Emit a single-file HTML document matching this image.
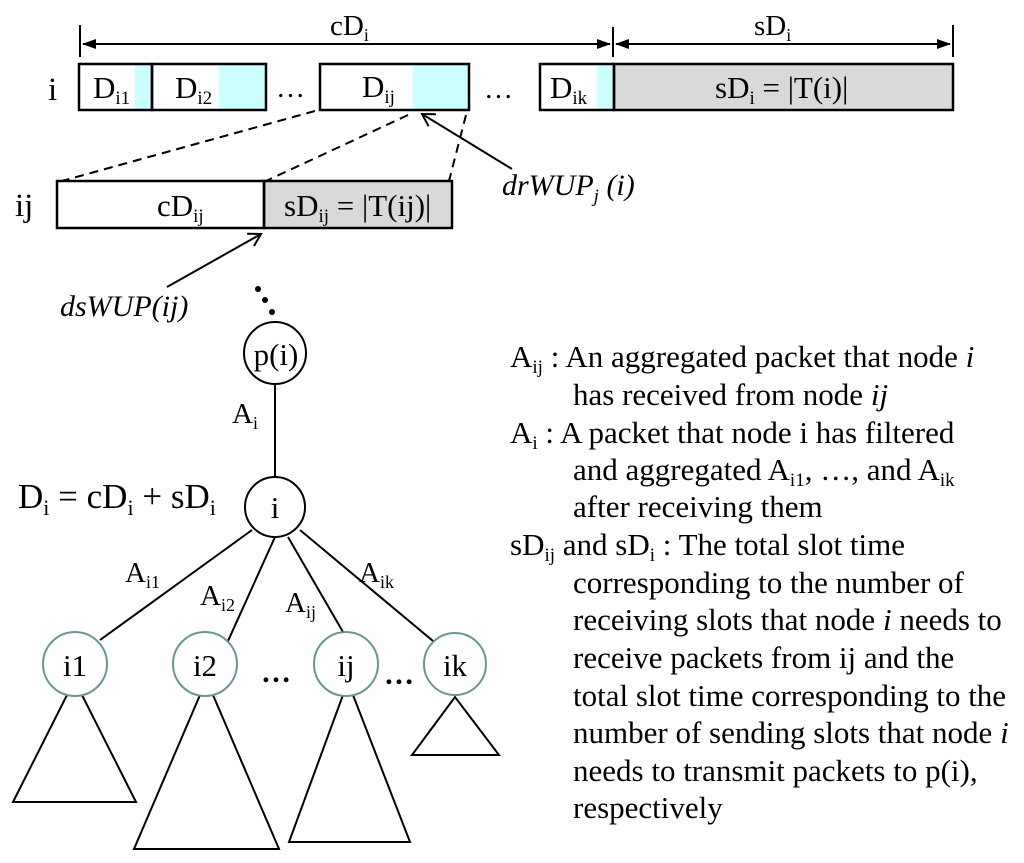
<!DOCTYPE html>
<html><head><meta charset="utf-8"><style>
html,body{margin:0;padding:0;background:#fff;}
svg{display:block;font-family:"Liberation Serif",serif;}
</style></head><body>
<svg width="1024" height="863" viewBox="0 0 1024 863" xmlns="http://www.w3.org/2000/svg">
<defs>
<marker id="ah" markerWidth="14" markerHeight="10" refX="13" refY="5" orient="auto" markerUnits="userSpaceOnUse"><path d="M0,0 L14,5 L0,10 Z" fill="#000"/></marker>
<marker id="oa" markerWidth="16" markerHeight="16" refX="14" refY="8" orient="auto" markerUnits="userSpaceOnUse"><path d="M2,1 L14,8 L2,15" fill="none" stroke="#000" stroke-width="2"/></marker>
</defs>
<g stroke="#000" stroke-width="2" fill="none">
<line x1="80" y1="25" x2="80" y2="57"/>
<line x1="613" y1="27" x2="613" y2="57"/>
<line x1="953" y1="25" x2="953" y2="57"/>
<line x1="610" y1="44" x2="83" y2="44" marker-end="url(#ah)"/>
<line x1="83" y1="44" x2="610" y2="44" marker-end="url(#ah)"/>
<line x1="950" y1="44" x2="616" y2="44" marker-end="url(#ah)"/>
<line x1="616" y1="44" x2="950" y2="44" marker-end="url(#ah)"/>
</g>
<text x="330" y="35" font-size="29">cD<tspan font-size="18" dy="6">i</tspan></text>
<text x="754" y="35" font-size="29">sD<tspan font-size="18" dy="6">i</tspan></text>
<!-- top bar -->
<rect x="135" y="65" width="17" height="45" fill="#ccffff"/>
<rect x="219" y="65" width="47" height="45" fill="#ccffff"/>
<rect x="413" y="65" width="56" height="45" fill="#ccffff"/>
<rect x="597" y="65" width="17" height="45" fill="#ccffff"/>
<rect x="614" y="65" width="339" height="45" fill="#d9d9d9"/>
<g stroke="#000" stroke-width="2.5" fill="none">
<rect x="79" y="64" width="73" height="46"/>
<rect x="152" y="64" width="114" height="46"/>
<rect x="320" y="64" width="149" height="46"/>
<rect x="540" y="64" width="74" height="46"/>
<rect x="614" y="64" width="339" height="46"/>
</g>
<text x="48" y="100" font-size="33">i</text>
<text x="93" y="98" font-size="31">D<tspan font-size="19" dy="6">i1</tspan></text>
<text x="175" y="98" font-size="31">D<tspan font-size="19" dy="6">i2</tspan></text>
<text x="362" y="97" font-size="31">D<tspan font-size="19" dy="6">ij</tspan></text>
<text x="550" y="98" font-size="31">D<tspan font-size="19" dy="6">ik</tspan></text>
<text x="715" y="98" font-size="31">sD<tspan font-size="19" dy="6">i</tspan><tspan dy="-6"> = |T(i)|</tspan></text>
<text x="276" y="97" font-size="29">…</text>
<text x="484" y="98" font-size="29">…</text>
<!-- dashed -->
<g stroke="#000" stroke-width="2" stroke-dasharray="9,6">
<line x1="315" y1="111" x2="62" y2="181"/>
<line x1="408" y1="115" x2="266" y2="181"/>
<line x1="466" y1="115" x2="449" y2="181"/>
</g>
<!-- ij bar -->
<rect x="264" y="182" width="188" height="46" fill="#d9d9d9"/>
<g stroke="#000" stroke-width="2.5" fill="none">
<rect x="57" y="181" width="207" height="47"/>
<rect x="264" y="181" width="188" height="47"/>
</g>
<text x="15" y="216" font-size="33">ij</text>
<text x="157" y="216" font-size="31">cD<tspan font-size="19" dy="6">ij</tspan></text>
<text x="284" y="216" font-size="31">sD<tspan font-size="19" dy="6">ij</tspan><tspan dy="-6"> = |T(ij)|</tspan></text>
<!-- pointers -->
<g stroke="#000" stroke-width="2" fill="none">
<line x1="512" y1="169" x2="422" y2="114" marker-end="url(#oa)"/>
<line x1="167" y1="287" x2="261" y2="234" marker-end="url(#oa)"/>
</g>
<text x="502" y="195" font-size="30" font-style="italic">drWUP<tspan font-size="19" dy="7">j</tspan><tspan dy="-7"> (i)</tspan></text>
<text x="60" y="316" font-size="30" font-style="italic">dsWUP(ij)</text>
<!-- tree -->
<g fill="#000"><circle cx="258" cy="289" r="3"/><circle cx="265" cy="300" r="3"/><circle cx="272" cy="312" r="3"/></g>
<g stroke="#000" stroke-width="2" fill="none">
<line x1="275" y1="384" x2="275" y2="476"/>
<line x1="252" y1="530" x2="100" y2="640"/>
<line x1="275" y1="537" x2="228" y2="641"/>
<line x1="288" y1="537" x2="343" y2="632"/>
<line x1="300" y1="530" x2="433" y2="641"/>
<circle cx="275" cy="353" r="31" fill="#fff"/>
<circle cx="275" cy="507" r="30" fill="#fff"/>
<path d="M67,695 L13,802 L136,802 L82,695"/>
<path d="M200,695 L134,849 L279,849 L213,695"/>
<path d="M343,695 L289,842 L410,842 L353,695"/>
<path d="M455,697 L412,755 L499,755 Z"/>
</g>
<g stroke="#6a9494" stroke-width="2" fill="#fff">
<circle cx="75" cy="664" r="32"/>
<circle cx="205" cy="664" r="32"/>
<circle cx="346" cy="664" r="32"/>
<circle cx="455" cy="664" r="31"/>
</g>
<g font-size="31" text-anchor="middle">
<text x="276" y="365">p(i)</text>
<text x="275" y="518">i</text>
<text x="75" y="676">i1</text>
<text x="205" y="676">i2</text>
<text x="346" y="676">ij</text>
<text x="455" y="676">ik</text>
</g>
<text x="261" y="682" font-size="30" font-weight="bold">…</text>
<text x="384" y="684" font-size="30" font-weight="bold">…</text>
<text x="232" y="423" font-size="29">A<tspan font-size="18" dy="6">i</tspan></text>
<text x="18" y="508" font-size="35">D<tspan font-size="22" dy="7">i</tspan><tspan dy="-7"> = cD</tspan><tspan font-size="22" dy="7">i</tspan><tspan dy="-7"> + sD</tspan><tspan font-size="22" dy="7">i</tspan></text>
<text x="125" y="582" font-size="29">A<tspan font-size="18" dy="6">i1</tspan></text>
<text x="200" y="605" font-size="29">A<tspan font-size="18" dy="6">i2</tspan></text>
<text x="285" y="612" font-size="29">A<tspan font-size="18" dy="6">ij</tspan></text>
<text x="359" y="582" font-size="29">A<tspan font-size="18" dy="6">ik</tspan></text>
<!-- legend -->
<g font-size="31">
<text x="510" y="367">A<tspan font-size="19" dy="6">ij</tspan><tspan dy="-6"> : An aggregated packet that node </tspan><tspan font-style="italic">i</tspan></text>
<text x="573" y="405">has received from node <tspan font-style="italic">ij</tspan></text>
<text x="510" y="443">A<tspan font-size="19" dy="6">i</tspan><tspan dy="-6">  : A packet that node i has filtered</tspan></text>
<text x="573" y="480">and aggregated A<tspan font-size="19" dy="6">i1</tspan><tspan dy="-6">, …, and A</tspan><tspan font-size="19" dy="6">ik</tspan></text>
<text x="573" y="517">after receiving them</text>
<text x="510" y="555">sD<tspan font-size="19" dy="6">ij</tspan><tspan dy="-6"> and sD</tspan><tspan font-size="19" dy="6">i</tspan><tspan dy="-6"> : The total slot time</tspan></text>
<text x="573" y="593">corresponding to the number of</text>
<text x="573" y="630">receiving slots that node <tspan font-style="italic">i</tspan> needs to</text>
<text x="573" y="668">receive packets from ij and the</text>
<text x="573" y="706">total slot time corresponding to the</text>
<text x="573" y="743">number of sending slots that node <tspan font-style="italic">i</tspan></text>
<text x="573" y="781">needs to transmit packets to p(i),</text>
<text x="573" y="818">respectively</text>
</g>
</svg>
</body></html>
